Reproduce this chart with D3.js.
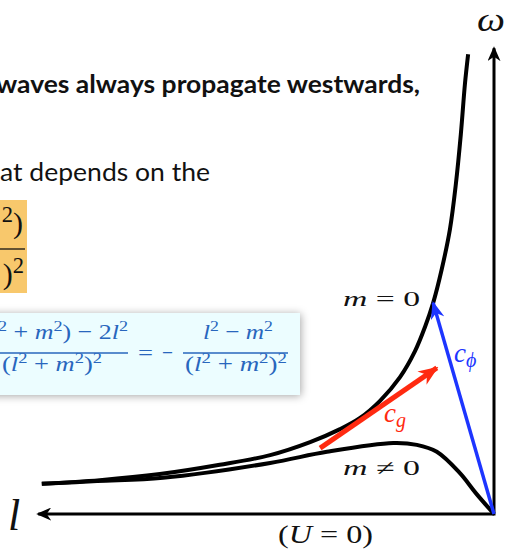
<!DOCTYPE html>
<html>
<head>
<meta charset="utf-8">
<script src="https://cdn.jsdelivr.net/npm/d3@7"></script>
<style>
  html, body { margin: 0; padding: 0; background: #ffffff; }
  svg { display: block; }
</style>
</head>
<body>
<svg id="chart" width="507" height="550"></svg>
<script>
// Rossby wave dispersion sketch (U = 0): frequency ω against zonal wavenumber l

// m = 0 branch, sampled points (l, ω)
const m0L = [9.96, 8.68, 7.36, 6.04, 4.93, 4.05, 3.39, 2.95, 2.51, 2.07, 1.74, 1.52, 1.34, 1.15, 0.97, 0.84, 0.73, 0.64, 0.57];
const m0W = [0.65, 0.73, 0.86, 1.06, 1.27, 1.55, 1.83, 2.07, 2.44, 2.95, 3.51, 4.03, 4.55, 5.28, 6.14, 7.11, 8.19, 9.27, 9.91];

// m ≠ 0 branch, sampled points (l, ω)
const mnL = [9.96, 8.74, 7.29, 4.93, 3.68, 2.22, 1.70, 1.26, 0.75, 0.40, 0.00];
const mnW = [0.65, 0.71, 0.78, 1.10, 1.34, 1.53, 1.49, 1.34, 0.88, 0.45, 0.00];

// group velocity arrow (tangent to the m = 0 branch) and phase velocity arrow
const cgStart = [3.83, 1.42];
const cgEnd = [1.26, 3.15];
const cpStart = [0, 0];
const cpEnd = [1.34, 4.55];

// axis extents
const lAxisMax = 10.04;
const wAxisMax = 10.04;

const svg = d3.select("#chart");

const x = d3.scaleLinear().domain([0, 10]).range([494, 40]);
const y = d3.scaleLinear().domain([0, 10]).range([514, 50]);

const defs = svg.append("defs");

function arrowMarker(id, color, len, half) {
  defs.append("marker")
    .attr("id", id)
    .attr("markerUnits", "userSpaceOnUse")
    .attr("viewBox", `0 ${-half} ${len} ${half * 2}`)
    .attr("refX", len - 2)
    .attr("refY", 0)
    .attr("markerWidth", len)
    .attr("markerHeight", half * 2)
    .attr("orient", "auto")
    .append("path")
    .attr("d", `M0,${-half} L${len},0 L0,${half} L${len * 0.3},0 Z`)
    .attr("fill", color);
}
arrowMarker("axisHead", "#000", 15, 6.5);
arrowMarker("redHead", "#ff2a10", 20, 8);
arrowMarker("blueHead", "#1d35ff", 18, 7);

const shadow = defs.append("filter").attr("id", "boxShadow")
  .attr("x", "-20%").attr("y", "-30%").attr("width", "140%").attr("height", "160%");
shadow.append("feDropShadow")
  .attr("dx", 1).attr("dy", 1).attr("stdDeviation", 4)
  .attr("flood-color", "#000").attr("flood-opacity", 0.35);

// ---- slide text on the left ----
const bodyFont = "Lato, 'Open Sans', sans-serif";
svg.append("text")
  .attr("x", -4).attr("y", 93)
  .attr("font-family", bodyFont).attr("font-weight", 700).attr("font-size", 25)
  .attr("textLength", 424).attr("lengthAdjust", "spacingAndGlyphs")
  .attr("fill", "#111")
  .text("waves always propagate westwards,");

svg.append("text")
  .attr("x", 0).attr("y", 181)
  .attr("font-family", bodyFont).attr("font-size", 25)
  .attr("textLength", 210).attr("lengthAdjust", "spacingAndGlyphs")
  .attr("fill", "#111")
  .text("at depends on the");

const mathFont = "'Liberation Serif', 'DejaVu Serif', serif";

// highlighted fraction fragment
svg.append("rect")
  .attr("x", 0).attr("y", 200).attr("width", 27).attr("height", 93)
  .attr("fill", "#f8c86c");

function mathText(parent, xPos, yPos, anchor, size, color, parts, width, supScale) {
  const s = supScale || 0.7;
  const t = parent.append("text")
    .attr("x", xPos).attr("y", yPos)
    .attr("text-anchor", anchor)
    .attr("font-family", mathFont)
    .attr("font-size", size)
    .attr("fill", color);
  if (width) t.attr("textLength", width).attr("lengthAdjust", "spacingAndGlyphs");
  let raised = false;
  parts.forEach(p => {
    const span = t.append("tspan").text(p.t);
    if (p.i) span.attr("font-style", "italic");
    if (p.sup && !raised) { span.attr("dy", -size * 0.38).attr("font-size", size * s); raised = true; }
    else if (p.sup && raised) { span.attr("font-size", size * s); }
    else if (!p.sup && raised) { span.attr("dy", size * 0.38); raised = false; }
  });
  return t;
}

mathText(svg, 23, 233, "end", 30, "#111", [{t: "2", sup: true}, {t: ")"}], null, 0.75);
svg.append("line").attr("x1", 0).attr("x2", 25).attr("y1", 249).attr("y2", 249)
  .attr("stroke", "#111").attr("stroke-width", 1.3);
mathText(svg, 24, 284, "end", 30, "#111", [{t: ")"}, {t: "2", sup: true}], null, 0.75);

// group velocity expression box
svg.append("rect")
  .attr("x", -12).attr("y", 313).attr("width", 312).attr("height", 82)
  .attr("fill", "#ecfdff")
  .attr("filter", "url(#boxShadow)");

const eqColor = "#2866bd";
const eqSize = 22;
mathText(svg, 128, 339, "end", eqSize, eqColor, [
  {t: "2", sup: true}, {t: " + "}, {t: "m", i: true}, {t: "2", sup: true},
  {t: ") − 2"}, {t: "l", i: true}, {t: "2", sup: true}
], 130);
svg.append("line").attr("x1", -12).attr("x2", 128).attr("y1", 353).attr("y2", 353)
  .attr("stroke", eqColor).attr("stroke-width", 1.3);
mathText(svg, 52, 371, "middle", eqSize, eqColor, [
  {t: "("}, {t: "l", i: true}, {t: "2", sup: true}, {t: " + "}, {t: "m", i: true}, {t: "2", sup: true}, {t: ")"}, {t: "2", sup: true}
], 100);
mathText(svg, 145.5, 360, "middle", eqSize, eqColor, [{t: "="}], 15);
mathText(svg, 167.5, 360, "middle", eqSize, eqColor, [{t: "−"}], 11);
mathText(svg, 238, 339, "middle", eqSize, eqColor, [
  {t: "l", i: true}, {t: "2", sup: true}, {t: " − "}, {t: "m", i: true}, {t: "2", sup: true}
], 70);
svg.append("line").attr("x1", 183).attr("x2", 288).attr("y1", 353).attr("y2", 353)
  .attr("stroke", eqColor).attr("stroke-width", 1.3);
mathText(svg, 236, 371, "middle", eqSize, eqColor, [
  {t: "("}, {t: "l", i: true}, {t: "2", sup: true}, {t: " + "}, {t: "m", i: true}, {t: "2", sup: true}, {t: ")"}, {t: "2", sup: true}
], 102);

// ---- axes ----
svg.append("line")
  .attr("x1", x(0)).attr("y1", y(0)).attr("x2", x(lAxisMax)).attr("y2", y(0))
  .attr("stroke", "#000").attr("stroke-width", 3)
  .attr("marker-end", "url(#axisHead)");
svg.append("line")
  .attr("x1", x(0)).attr("y1", y(0) + 1.5).attr("x2", x(0)).attr("y2", y(wAxisMax))
  .attr("stroke", "#000").attr("stroke-width", 3)
  .attr("marker-end", "url(#axisHead)");

// ---- dispersion curves ----
const line = d3.line()
  .x(d => x(d[0])).y(d => y(d[1]))
  .curve(d3.curveCatmullRom.alpha(0.5));

svg.append("path")
  .datum(m0L.map((l, i) => [l, m0W[i]]))
  .attr("d", line)
  .attr("fill", "none").attr("stroke", "#000").attr("stroke-width", 4);

svg.append("path")
  .datum(mnL.map((l, i) => [l, mnW[i]]))
  .attr("d", line)
  .attr("fill", "none").attr("stroke", "#000").attr("stroke-width", 4);

// ---- velocity arrows ----
svg.append("line")
  .attr("x1", x(cgStart[0])).attr("y1", y(cgStart[1]))
  .attr("x2", x(cgEnd[0])).attr("y2", y(cgEnd[1]))
  .attr("stroke", "#ff2a10").attr("stroke-width", 5)
  .attr("marker-end", "url(#redHead)");

svg.append("line")
  .attr("x1", x(cpStart[0])).attr("y1", y(cpStart[1]))
  .attr("x2", x(cpEnd[0])).attr("y2", y(cpEnd[1]))
  .attr("stroke", "#1d35ff").attr("stroke-width", 3.5)
  .attr("marker-end", "url(#blueHead)");

// ---- labels ----
mathText(svg, 491, 31, "middle", 33, "#111", [{t: "ω", i: true}], 28);
mathText(svg, 8, 530, "start", 44, "#111", [{t: "l", i: true}]);
mathText(svg, 325.5, 543, "middle", 25, "#111", [{t: "("}, {t: "U", i: true}, {t: " = 0)"}], 95);
mathText(svg, 381.5, 306, "middle", 21, "#111", [{t: "m", i: true}, {t: " = 0"}], 77);
mathText(svg, 381.5, 475, "middle", 21, "#111", [{t: "m", i: true}, {t: " ≠ 0"}], 77);

const cg = svg.append("text")
  .attr("x", 384).attr("y", 422)
  .attr("font-family", mathFont).attr("font-style", "italic")
  .attr("font-size", 27).attr("fill", "#ff2a10");
cg.append("tspan").text("c");
cg.append("tspan").attr("dy", 5).attr("font-size", 20).text("g");

const cp = svg.append("text")
  .attr("x", 454).attr("y", 362)
  .attr("font-family", mathFont).attr("font-style", "italic")
  .attr("font-size", 27).attr("fill", "#1d35ff");
cp.append("tspan").text("c");
cp.append("tspan").attr("dy", 5).attr("font-size", 20).text("ϕ");
</script>
</body>
</html>
